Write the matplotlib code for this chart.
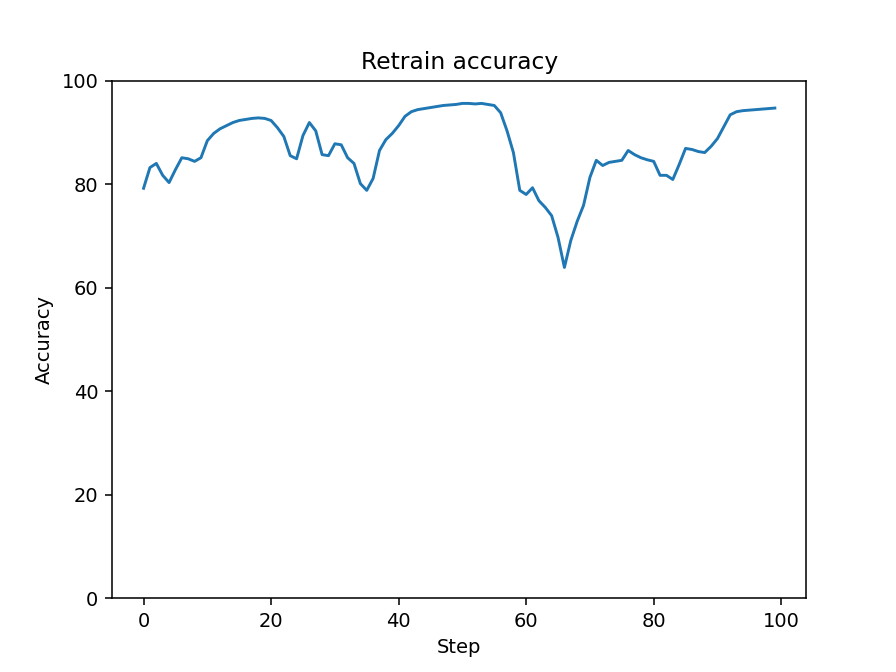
import matplotlib
matplotlib.use("Agg")
import matplotlib.pyplot as plt

steps = list(range(100))
accuracy = [
    79.2, 83.2, 84.0, 81.7, 80.3, 82.8, 85.1, 84.9, 84.4, 85.1,
    88.4, 89.8, 90.7, 91.3, 91.9, 92.3, 92.5, 92.7, 92.8, 92.7,
    92.3, 90.9, 89.2, 85.5, 84.9, 89.4, 91.9, 90.3, 85.7, 85.5,
    87.8, 87.6, 85.1, 84.0, 80.1, 78.8, 81.1, 86.5, 88.6, 89.8,
    91.3, 93.1, 94.0, 94.4, 94.6, 94.8, 95.0, 95.2, 95.3, 95.4,
    95.6, 95.6, 95.5, 95.6, 95.4, 95.2, 93.8, 90.3, 86.1, 78.8,
    78.0, 79.3, 76.8, 75.5, 73.9, 69.7, 63.9, 69.1, 72.8, 75.9,
    81.3, 84.6, 83.6, 84.2, 84.4, 84.6, 86.5, 85.7, 85.1, 84.7,
    84.4, 81.7, 81.7, 80.9, 83.8, 86.9, 86.7, 86.3, 86.1, 87.3,
    88.8, 91.1, 93.4, 94.0, 94.2, 94.3, 94.4, 94.5, 94.6, 94.7,
]

fig, ax = plt.subplots(figsize=(6.4, 4.8), dpi=140)
ax.plot(steps, accuracy)
ax.set_ylim(0, 100)
ax.set_title("Retrain accuracy")
ax.set_xlabel("Step")
ax.set_ylabel("Accuracy")
fig.savefig("out.png", dpi=140)
